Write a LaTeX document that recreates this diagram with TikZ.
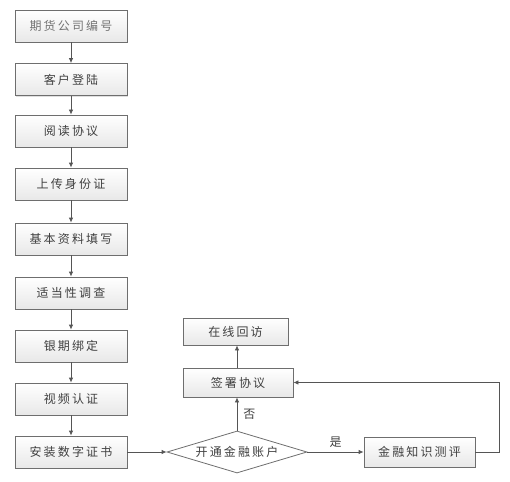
\documentclass[tikz,border=0pt]{standalone}
\usepackage{fontspec}
\newfontfamily\cjk[LetterSpace=18]{Noto Sans CJK SC}
\usetikzlibrary{arrows.meta,shapes.geometric,shadows}
\definecolor{txt}{HTML}{404040}
\definecolor{edge}{HTML}{6E6E6E}
\definecolor{ln}{HTML}{555555}
\tikzset{
  box/.style={draw=edge, line width=0.8pt, top color=white, bottom color=black!9,
    drop shadow={shadow xshift=1.2pt, shadow yshift=-1.2pt, opacity=0.25},
    minimum width=112pt, minimum height=32pt, inner sep=0pt,
    font=\cjk\fontsize{12}{14}\selectfont, text=txt},
  dia/.style={draw=edge, line width=0.8pt, fill=white, shape=diamond, aspect=3.33,
    minimum width=140pt, minimum height=42pt, inner sep=0pt,
    font=\cjk\fontsize{12}{14}\selectfont, text=txt},
  arr/.style={draw=ln, line width=0.8pt, -{Latex[length=5pt,width=4.5pt]}},
  lab/.style={font=\cjk\fontsize{12}{14}\selectfont, text=txt, inner sep=0pt}
}
\begin{document}
\begin{tikzpicture}[x=1pt,y=-1pt]
\useasboundingbox (0,0) rectangle (510,481);
\node[box, text=black!55] (a1) at (71,26) {期货公司编号};
\node[box] (a2) at (71,79.5) {客户登陆};
\node[box] (a3) at (71,131) {阅读协议};
\node[box] (a4) at (71,184) {上传身份证};
\node[box] (a5) at (71,239) {基本资料填写};
\node[box] (a6) at (71,293) {适当性调查};
\node[box] (a7) at (71,346) {银期绑定};
\node[box] (a8) at (71,399) {视频认证};
\node[box] (a9) at (71,452) {安装数字证书};
\node[dia] (d) at (237,452) {开通金融账户};
\node[box, minimum width=111pt, minimum height=30pt] (jr) at (419.5,452) {金融知识测评};
\node[box, minimum width=110pt, minimum height=29pt] (qs) at (238,382.5) {签署协议};
\node[box, minimum width=105pt, minimum height=27pt] (zx) at (235.5,331.5) {在线回访};
\coordinate (c1) at (499,452);
\coordinate (c2) at (499,382.5);
\foreach \i/\j in {a1/a2,a2/a3,a3/a4,a4/a5,a5/a6,a6/a7,a7/a8,a8/a9}
  \draw[arr] (\i) -- (\j);
\draw[arr] (a9) -- (d);
\draw[arr] (d) -- node[lab, above=4pt] {是} (jr);
\draw[arr] (d.north) -- node[lab, right=6pt] {否} (d.north |- qs.south);
\draw[arr] (qs.north -| d.north) -- (d.north |- zx.south);
\draw[arr] (jr.east) -- (c1) -- (c2) -- (qs.east);
\end{tikzpicture}
\end{document}
